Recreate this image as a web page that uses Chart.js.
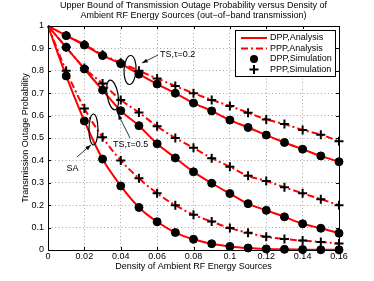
<!DOCTYPE html>
<html>
<head>
<meta charset="utf-8">
<script src="https://cdn.jsdelivr.net/npm/chart.js@4.4.1/dist/chart.umd.min.js"></script>
<style>
  html, body { margin: 0; padding: 0; background: #fff; }
</style>
</head>
<body>
<canvas id="chart" width="374" height="281"></canvas>
<script>
// values
const density = [0, 0.01, 0.02, 0.03, 0.04, 0.05, 0.06, 0.07, 0.08, 0.09, 0.10, 0.11, 0.12, 0.13, 0.14, 0.15, 0.16];
const tsTau02Dpp = [1, 0.957, 0.915, 0.868, 0.832, 0.785, 0.741, 0.700, 0.656, 0.621, 0.580, 0.547, 0.513, 0.480, 0.450, 0.420, 0.394];
const tsTau02Ppp = [1, 0.958, 0.917, 0.872, 0.836, 0.800, 0.766, 0.732, 0.700, 0.670, 0.643, 0.613, 0.583, 0.562, 0.536, 0.515, 0.485];
const tsTau05Dpp = [1, 0.905, 0.808, 0.714, 0.622, 0.555, 0.474, 0.411, 0.349, 0.298, 0.252, 0.207, 0.177, 0.148, 0.117, 0.097, 0.075];
const tsTau05Ppp = [1, 0.905, 0.812, 0.743, 0.670, 0.614, 0.552, 0.500, 0.456, 0.410, 0.372, 0.331, 0.308, 0.280, 0.253, 0.227, 0.200];
const saDpp = [1, 0.777, 0.576, 0.406, 0.286, 0.190, 0.126, 0.078, 0.048, 0.028, 0.016, 0.009, 0.005, 0.003, 0.002, 0.001, 0.001];
const saPpp = [1, 0.800, 0.632, 0.503, 0.400, 0.320, 0.253, 0.200, 0.157, 0.127, 0.098, 0.077, 0.059, 0.049, 0.042, 0.036, 0.029];

const xTickLabels = ['0', '0.02', '0.04', '0.06', '0.08', '0.1', '0.12', '0.14', '0.16'];
const yTickLabels = ['0', '0.1', '0.2', '0.3', '0.4', '0.5', '0.6', '0.7', '0.8', '0.9', '1'];
const legendLabels = ['DPP,Analysis', 'PPP,Analysis', 'DPP,Simulation', 'PPP,Simulation'];
const titleLines = ['Upper Bound of Transmission Outage Probability versus Density of',
                    'Ambient RF Energy Sources (out\u2212of\u2212band transmission)'];

const FONT = "'Liberation Sans', Arial, sans-serif";
Chart.defaults.font.family = FONT;
Chart.defaults.font.size = 9;
Chart.defaults.color = '#000';

const RED = '#ff0000';
const DASHDOT = [7, 3, 2, 3];

function toPoints(ys, skipFirst) {
    const pts = density.map((x, i) => ({ x: x, y: ys[i] }));
    return skipFirst ? pts.slice(1) : pts;
}

const pairs = [
    { dpp: tsTau02Dpp, ppp: tsTau02Ppp },
    { dpp: tsTau05Dpp, ppp: tsTau05Ppp },
    { dpp: saDpp, ppp: saPpp }
];

const markerSets = [];
const lineSets = [];
pairs.forEach(p => {
    markerSets.push({
        data: toPoints(p.dpp, true), showLine: false, clip: false,
        pointStyle: 'circle', pointRadius: 4, pointBackgroundColor: '#000',
        pointBorderColor: '#000', pointBorderWidth: 1
    });
    markerSets.push({
        data: toPoints(p.ppp, true), showLine: false, clip: false,
        pointStyle: 'cross', pointRadius: 4.5, pointBorderColor: '#000',
        pointBorderWidth: 2
    });
    lineSets.push({
        data: toPoints(p.dpp, false), showLine: true, borderColor: RED, borderWidth: 2,
        pointRadius: 0, cubicInterpolationMode: 'monotone', clip: false
    });
    lineSets.push({
        data: toPoints(p.ppp, false), showLine: true, borderColor: RED, borderWidth: 2,
        borderDash: DASHDOT, pointRadius: 0, cubicInterpolationMode: 'monotone', clip: false
    });
});

// ellipses, arrows and labels, placed in data units
const notes = [
    { label: 'TS,\u03c4=0.2', cx: 0.0451, cy: 0.8036, rx: 6, ry: 14.5, rot: 0.05,
      tail: [0.0605, 0.8705], tip: [0.0517, 0.8348], text: [0.0616, 0.8705] },
    { label: 'TS,\u03c4=0.5', cx: 0.0355, cy: 0.692, rx: 5.5, ry: 15, rot: -0.17,
      tail: [0.0451, 0.500], tip: [0.0385, 0.607], text: [0.0357, 0.473] },
    { label: 'SA', cx: 0.025, cy: 0.538, rx: 4.5, ry: 15.5, rot: 0,
      tail: [0.0159, 0.415], tip: [0.0236, 0.469], text: [0.0102, 0.366] }
];

const annotate = {
    id: 'annotate',
    afterDatasetsDraw(chart) {
        const { ctx, scales: { x, y } } = chart;
        ctx.save();
        ctx.strokeStyle = '#000';
        ctx.fillStyle = '#000';
        ctx.lineWidth = 1.2;
        ctx.font = '9px ' + FONT;
        ctx.textBaseline = 'middle';
        notes.forEach(n => {
            ctx.beginPath();
            ctx.ellipse(x.getPixelForValue(n.cx), y.getPixelForValue(n.cy), n.rx, n.ry, n.rot, 0, Math.PI * 2);
            ctx.stroke();

            const x0 = x.getPixelForValue(n.tail[0]), y0 = y.getPixelForValue(n.tail[1]);
            const x1 = x.getPixelForValue(n.tip[0]), y1 = y.getPixelForValue(n.tip[1]);
            const a = Math.atan2(y1 - y0, x1 - x0);
            ctx.lineWidth = 0.8;
            ctx.beginPath();
            ctx.moveTo(x0, y0);
            ctx.lineTo(x1, y1);
            ctx.stroke();
            ctx.beginPath();
            ctx.moveTo(x1, y1);
            ctx.lineTo(x1 - 6 * Math.cos(a - 0.35), y1 - 6 * Math.sin(a - 0.35));
            ctx.lineTo(x1 - 6 * Math.cos(a + 0.35), y1 - 6 * Math.sin(a + 0.35));
            ctx.closePath();
            ctx.fill();
            ctx.lineWidth = 1.2;

            ctx.fillText(n.label, x.getPixelForValue(n.text[0]), y.getPixelForValue(n.text[1]));
        });
        ctx.restore();
    }
};

// black box round the plot, inward ticks, and the legend
const frame = {
    id: 'frame',
    afterDraw(chart) {
        const { ctx, chartArea: a, scales: { x, y } } = chart;
        ctx.save();
        ctx.strokeStyle = '#000';
        ctx.lineWidth = 1;
        ctx.strokeRect(Math.round(a.left) + 0.5, Math.round(a.top) + 0.5,
                       Math.round(a.right - a.left), Math.round(a.bottom - a.top));
        ctx.beginPath();
        x.ticks.forEach(t => {
            const px = Math.round(x.getPixelForValue(t.value)) + 0.5;
            ctx.moveTo(px, a.bottom); ctx.lineTo(px, a.bottom - 3);
            ctx.moveTo(px, a.top); ctx.lineTo(px, a.top + 3);
        });
        y.ticks.forEach(t => {
            const py = Math.round(y.getPixelForValue(t.value)) + 0.5;
            ctx.moveTo(a.left, py); ctx.lineTo(a.left + 3, py);
            ctx.moveTo(a.right, py); ctx.lineTo(a.right - 3, py);
        });
        ctx.stroke();

        // legend box
        const bx = 235.5, by = 30.5, bw = 100, bh = 46;
        ctx.fillStyle = '#fff';
        ctx.fillRect(bx, by, bw, bh);
        ctx.strokeRect(bx, by, bw, bh);
        const rows = [38, 48.5, 59, 69.5];
        ctx.font = '9px ' + FONT;
        ctx.textBaseline = 'middle';
        rows.forEach((ry, i) => {
            if (i < 2) {
                ctx.strokeStyle = RED;
                ctx.lineWidth = 2;
                ctx.setLineDash(i === 1 ? DASHDOT : []);
                ctx.beginPath();
                ctx.moveTo(241, ry); ctx.lineTo(267, ry);
                ctx.stroke();
                ctx.setLineDash([]);
            } else if (i === 2) {
                ctx.fillStyle = '#000';
                ctx.beginPath();
                ctx.arc(254, ry, 4, 0, Math.PI * 2);
                ctx.fill();
            } else {
                ctx.strokeStyle = '#000';
                ctx.lineWidth = 2;
                ctx.beginPath();
                ctx.moveTo(249.5, ry); ctx.lineTo(258.5, ry);
                ctx.moveTo(254, ry - 4.5); ctx.lineTo(254, ry + 4.5);
                ctx.stroke();
            }
            ctx.fillStyle = '#000';
            ctx.fillText(legendLabels[i], 270, ry);
        });
        ctx.restore();
    }
};

new Chart(document.getElementById('chart'), {
    type: 'scatter',
    data: { datasets: markerSets.concat(lineSets) },
    options: {
        responsive: false,
        animation: false,
        devicePixelRatio: 1,
        layout: { padding: { left: 0, right: 35, top: 0, bottom: 0 } },
        plugins: {
            legend: { display: false },
            tooltip: { enabled: false },
            title: {
                display: true,
                fullSize: false,
                text: titleLines,
                color: '#000',
                font: { size: 9, weight: 'normal', lineHeight: 1.1 },
                padding: { top: 1, bottom: 5.2 }
            }
        },
        scales: {
            x: {
                type: 'linear', min: 0, max: 0.16,
                afterFit: s => { s.height = 31; },
                ticks: { stepSize: 0.02, padding: 1, maxRotation: 0,
                         callback: (v, i) => xTickLabels[i] },
                grid: { color: 'rgba(0,0,0,0.35)', drawTicks: false },
                border: { display: false, dash: [1, 2.5] },
                title: { display: true, text: 'Density of Ambient RF Energy Sources',
                         font: { size: 9 }, padding: { top: 0, bottom: 9.5 } }
            },
            y: {
                type: 'linear', min: 0, max: 1,
                afterFit: s => { s.width = 48; },
                ticks: { stepSize: 0.1, padding: 4,
                         callback: (v, i) => yTickLabels[i] },
                grid: { color: 'rgba(0,0,0,0.35)', drawTicks: false },
                border: { display: false, dash: [1, 2.5] },
                title: { display: true, text: 'Transmission Outage Probability',
                         font: { size: 9 }, padding: { top: 20, bottom: 0 } }
            }
        }
    },
    plugins: [annotate, frame]
});
</script>
</body>
</html>
